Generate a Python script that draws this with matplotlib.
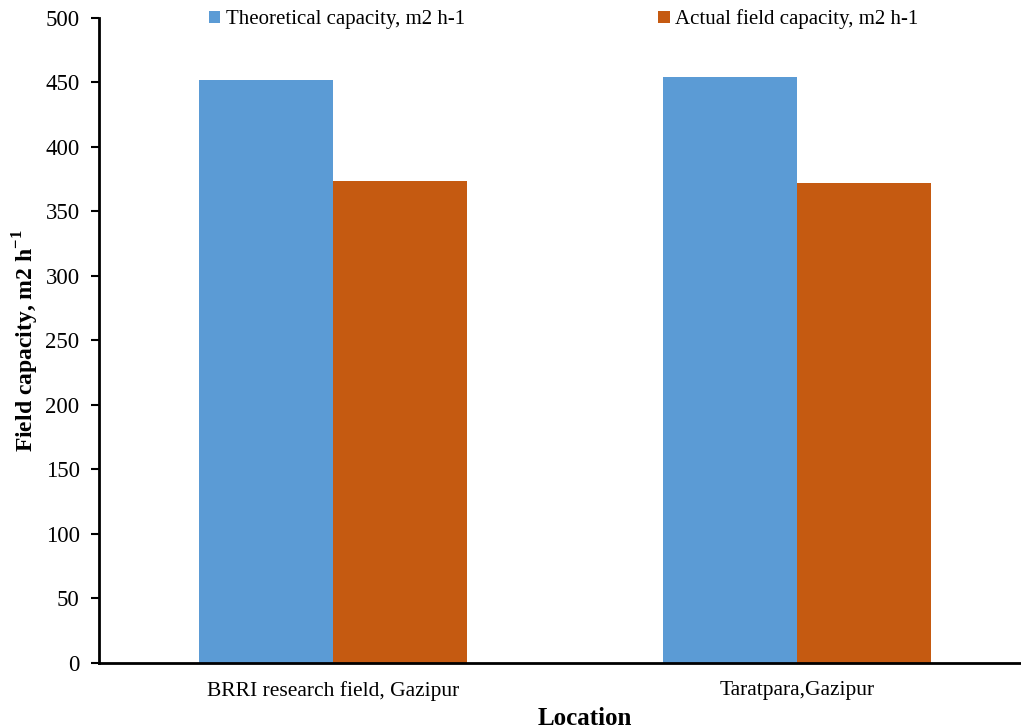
import matplotlib.pyplot as plt
import numpy as np

plt.rcParams['font.family'] = 'Liberation Serif'
plt.rcParams['mathtext.fontset'] = 'custom'
plt.rcParams['mathtext.rm'] = 'Liberation Serif'
plt.rcParams['mathtext.bf'] = 'Liberation Serif:bold'

locations = ['BRRI research field, Gazipur', 'Taratpara,Gazipur']
theoretical = [452, 454]
actual = [374, 372]
series_names = ['Theoretical capacity, m2 h-1', 'Actual field capacity, m2 h-1']

fig = plt.figure(figsize=(10.21, 7.28), dpi=100)
ax = fig.add_axes([0.097, 0.0893, 0.903, 0.886])

x = np.arange(len(locations))
w = 0.289
ax.bar(x - w / 2, theoretical, w, color='#5B9BD5', label=series_names[0])
ax.bar(x + w / 2, actual, w, color='#C55A11', label=series_names[1])

ax.set_xlim(-0.504, 1.483)
ax.set_ylim(0, 500)
ax.set_yticks(range(0, 501, 50))
ax.set_xticks(x)
ax.set_xticklabels(locations, fontsize=15.5)
ax.tick_params(axis='x', length=0, pad=13)
ax.tick_params(axis='y', labelsize=16.5, length=6, width=1.5, pad=8)

for side in ['top', 'right']:
    ax.spines[side].set_visible(False)
for side in ['left', 'bottom']:
    ax.spines[side].set_linewidth(2)

ax.set_xlabel('Location', fontsize=18, fontweight='bold')
ax.xaxis.set_label_coords(0.527, -0.068)
ax.set_ylabel('Field capacity, m2 h$^{\\mathbf{-1}}$', fontsize=17, fontweight='bold')
ax.yaxis.set_label_coords(-0.063, 0.5)

fig.legend(loc='upper center', bbox_to_anchor=(0.552, 1.013), ncol=2, frameon=False,
           fontsize=15, handlelength=0.55, handleheight=0.55, handletextpad=0.25,
           columnspacing=9.3)

plt.savefig('out.png')
